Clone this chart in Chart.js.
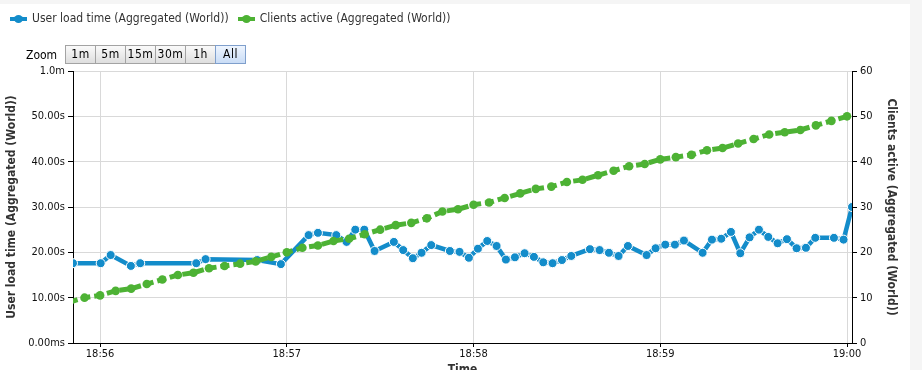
<!DOCTYPE html>
<html>
<head>
<meta charset="utf-8">
<script src="https://cdn.jsdelivr.net/npm/chart.js@4.4.1/dist/chart.umd.min.js"></script>
<style>
  html, body { margin: 0; padding: 0; width: 922px; height: 370px; overflow: hidden; background: #f5f5f5; }
  body { font-family: "DejaVu Sans Condensed", "DejaVu Sans", sans-serif; color: #333; }
  #panel { position: absolute; left: 0; top: 4px; width: 910px; height: 366px; background: #fff; }
  #chart { position: absolute; left: 0; top: 0; }
  #legend { position: absolute; left: 10px; top: 11px; font-size: 12px; white-space: nowrap; }
  .item { display: inline-block; margin-right: 9px; }
  .mark { display: inline-block; position: relative; width: 17px; height: 8px; margin-right: 5px; vertical-align: -1px; }
  .mark .ln { position: absolute; left: 0; right: 0; top: 2px; height: 4px; }
  .mark .dt { position: absolute; left: 4px; top: 0; width: 9px; height: 8px; border-radius: 50%; }
  #zoomLabel { position: absolute; left: 26px; top: 48px; font-size: 12px; color: #000; }
  #zoomBtns { position: absolute; left: 65px; top: 45px; display: flex; }
  .btn { width: 29px; height: 17px; line-height: 17px; text-align: center; font-size: 12px; letter-spacing: 0.5px;
         border: 1px solid #a3a3a3; margin-right: -1px; color: #000;
         background: linear-gradient(#fafafa, #dedede); }
  .btn.on { background: linear-gradient(#eef5fe, #c9dcf6); border-color: #7f9fcc; position: relative; }
</style>
</head>
<body>
<div id="panel"></div>
<canvas id="chart" width="910" height="382"></canvas>
<div id="legend"></div>
<div id="zoomLabel">Zoom</div>
<div id="zoomBtns"></div>
<script>
// seconds relative to 18:56:00
const blueTimes = [-8.7, 0.2, 3.4, 9.9, 12.9, 30.9, 33.9, 50.5, 58.1, 67.0, 70.0, 75.9, 79.2, 82.0, 84.9, 88.2,
  94.4, 97.4, 100.5, 103.3, 106.4, 112.4, 115.5, 118.5, 121.4, 124.4, 127.4, 130.4, 133.3, 136.4, 139.4,
  142.4, 145.4, 148.4, 151.4, 157.4, 160.5, 163.5, 166.6, 169.6, 175.6, 178.5, 181.6, 184.7, 187.6,
  193.6, 196.6, 199.6, 202.7, 205.7, 208.7, 211.7, 214.7, 217.7, 220.7, 223.8, 226.8, 229.8, 235.8,
  238.9, 241.6];
const loadTimes = [17.6, 17.6, 19.4, 17.0, 17.6, 17.6, 18.5, 18.3, 17.4, 23.8, 24.3, 23.8, 22.3, 25.0, 25.0, 20.3,
  22.3, 20.5, 18.7, 19.9, 21.6, 20.3, 20.1, 18.8, 20.8, 22.5, 21.4, 18.4, 18.9, 19.8, 19.0,
  17.8, 17.6, 18.3, 19.2, 20.7, 20.5, 19.9, 19.2, 21.4, 19.4, 20.9, 21.7, 21.7, 22.6,
  19.9, 22.8, 23.0, 24.5, 19.8, 23.3, 25.0, 23.4, 22.0, 22.9, 20.9, 21.0, 23.2, 23.2,
  22.8, 30.0];

const clientTimes = [-10, -5, 0, 5, 10, 15, 20, 25, 30, 35, 40, 45, 50, 55, 60, 65, 70, 75, 80, 85, 90, 95,
  100, 105, 110, 115, 120, 125, 130, 135, 140, 145, 150, 155, 160, 165, 170, 175, 180, 185, 190, 195,
  200, 205, 210, 215, 220, 225, 230, 235, 240];
const clientsActive = [9, 10, 10.5, 11.5, 12, 13, 14, 15, 15.5, 16.5, 17, 17.5, 18, 19, 20, 21, 21.5, 22.5, 23, 24, 25, 26,
  26.5, 27.5, 29, 29.5, 30.5, 31, 32, 33, 34, 34.5, 35.5, 36, 37, 38, 39, 39.5, 40.5, 41, 41.5, 42.5,
  43, 44, 45, 46, 46.5, 47, 48, 49, 50];

const timeTicks = [0, 60, 120, 180, 240];
const timeLabels = ['18:56', '18:57', '18:58', '18:59', '19:00'];
const loadTickLabels = ['0.00ms', '10.00s', '20.00s', '30.00s', '40.00s', '50.00s', '1.0m'];
const zoomButtons = ['1m', '5m', '15m', '30m', '1h', 'All'];

const FONT = '"DejaVu Sans Condensed", "DejaVu Sans", sans-serif';
const BLUE = '#138cca';
const GREEN = '#4db234';

const tickFont = { family: FONT, size: 11 };
const titleFont = { family: FONT, size: 12, weight: 'bold' };

const chart = new Chart(document.getElementById('chart'), {
  type: 'line',
  data: {
    datasets: [{
      label: 'User load time (Aggregated (World))',
      data: blueTimes.map((t, i) => ({ x: t, y: loadTimes[i] })),
      yAxisID: 'yLoad',
      borderColor: BLUE,
      backgroundColor: BLUE,
      borderWidth: 4.5,
      pointRadius: 4.5,
      pointBorderColor: '#fff',
      pointBorderWidth: 1,
      tension: 0,
      order: 1
    }, {
      label: 'Clients active (Aggregated (World))',
      data: clientTimes.map((t, i) => ({ x: t, y: clientsActive[i] })),
      yAxisID: 'yClients',
      borderColor: GREEN,
      backgroundColor: GREEN,
      borderWidth: 5,
      borderDash: [9, 4],
      pointRadius: 4.3,
      pointBorderWidth: 0,
      tension: 0,
      order: 0
    }]
  },
  options: {
    responsive: false,
    animation: false,
    layout: { padding: { top: 71, left: 0, right: 0, bottom: 0 } },
    plugins: { legend: { display: false }, tooltip: { enabled: false } },
    scales: {
      x: {
        type: 'linear',
        min: blueTimes[0],
        max: blueTimes[blueTimes.length - 1],
        afterBuildTicks: s => { s.ticks = timeTicks.map(v => ({ value: v })); },
        afterFit: s => { s.height = 39; },
        ticks: {
          font: tickFont, color: '#111', padding: 1, maxRotation: 0, autoSkip: false,
          callback: v => timeLabels[timeTicks.indexOf(v)]
        },
        grid: { color: '#d9d9d9', tickColor: '#000', tickLength: 4 },
        border: { color: '#000' },
        title: { display: true, text: 'Time', font: titleFont, color: '#333', padding: { top: 4, bottom: 5 } }
      },
      yLoad: {
        position: 'left',
        min: 0, max: 60,
        afterFit: s => { s.width = 73; },
        ticks: {
          stepSize: 10, font: tickFont, color: '#111', padding: 3,
          callback: v => loadTickLabels[v / 10]
        },
        grid: { color: '#d9d9d9', tickColor: '#000', tickLength: 5 },
        border: { color: '#000' },
        title: { display: true, text: 'User load time (Aggregated (World))', font: titleFont, color: '#333', padding: { top: 5, bottom: 0 } }
      },
      yClients: {
        position: 'right',
        min: 0, max: 60,
        afterFit: s => { s.width = 58; },
        ticks: { stepSize: 10, font: tickFont, color: '#111', padding: 3 },
        grid: { drawOnChartArea: false, tickColor: '#000', tickLength: 5 },
        border: { color: '#000' },
        title: { display: true, text: 'Clients active (Aggregated (World))', font: titleFont, color: '#333', padding: { top: 12, bottom: 0 } }
      }
    }
  }
});

// legend built from the datasets
const legend = document.getElementById('legend');
chart.data.datasets.forEach(ds => {
  const item = document.createElement('span');
  item.className = 'item';
  item.innerHTML = '<span class="mark"><span class="ln" style="background:' + ds.borderColor + '"></span>' +
    '<span class="dt" style="background:' + ds.borderColor + '"></span></span>' + ds.label;
  legend.appendChild(item);
});

const btns = document.getElementById('zoomBtns');
zoomButtons.forEach(b => {
  const el = document.createElement('div');
  el.className = 'btn' + (b === 'All' ? ' on' : '');
  el.textContent = b;
  btns.appendChild(el);
});
</script>
</body>
</html>
